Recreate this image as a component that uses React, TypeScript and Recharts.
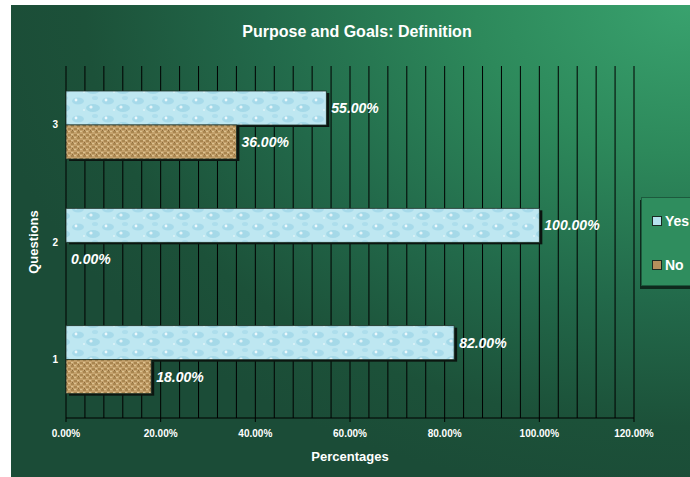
import { BarChart, Bar, XAxis, YAxis, CartesianGrid, Legend, LabelList } from 'recharts';

const questions = ['1', '2', '3'];
const yesValues = [82, 100, 55];
const noValues = [18, 0, 36];
const seriesNames = ['Yes', 'No'];
const markerColors = ['#b4e2ee', '#b58f5c'];
const xTicks = [0, 4, 8, 12, 16, 20, 24, 28, 32, 36, 40, 44, 48, 52, 56, 60, 64, 68, 72, 76, 80, 84, 88, 92, 96, 100, 104, 108, 112, 116, 120];
const labelledTicks = [0, 20, 40, 60, 80, 100, 120];

const data = questions.map((q, i) => ({ question: q, yes: yesValues[i], no: noValues[i] }));

const font = '"Liberation Sans", Arial, sans-serif';

const pct = (v: number) => `${Number(v).toFixed(2)}%`;

const XTick = (props: any) => {
  const { x, y, payload } = props;
  if (!labelledTicks.includes(payload.value)) return null;
  return (
    <g>
      <line x1={x} y1={y} x2={x} y2={y + 4} stroke="#000" />
      <text x={x} y={y + 19} textAnchor="middle" fill="#fff" fontSize={10} fontWeight="bold" fontFamily={font}>
        {pct(payload.value)}
      </text>
    </g>
  );
};

const ShadowBar = (props: any) => {
  const { x, y, width, height, fill } = props;
  if (!width || width <= 0) return <g />;
  return (
    <g>
      <rect x={x + 3} y={y + 2} width={width} height={height} fill="#0b1510" />
      <rect x={x} y={y} width={width} height={height} fill={fill} stroke="#1e3328" strokeWidth={0.8} />
    </g>
  );
};

const LegendBox = () => (
  <div
    style={{
      width: 70,
      height: 89,
      boxSizing: 'border-box',
      background: '#2f8d5e',
      border: '1px solid #1c5a3d',
      boxShadow: '-1px 3px 0 #0e2a1d',
      position: 'relative',
      fontFamily: font,
    }}
  >
    {seriesNames.map((name, i) => (
      <div key={name} style={{ position: 'absolute', left: 10, top: 15 + i * 44, display: 'flex', alignItems: 'center' }}>
        <span style={{ width: 8, height: 8, background: markerColors[i], border: '1px solid #1a2a22', display: 'inline-block' }} />
        <span style={{ marginLeft: 3, color: '#fff', fontWeight: 'bold', fontSize: 14 }}>{name}</span>
      </div>
    ))}
  </div>
);

export default function App() {
  return (
    <div
      style={{
        position: 'absolute',
        left: 11,
        top: 5,
        width: 679,
        height: 472,
        overflow: 'hidden',
        background: 'radial-gradient(ellipse 105% 105% at 100% 0%, #39a26e 0%, #2d895b 30%, #22694a 60%, #1c5139 85%, #1b4c37 100%)',
      }}
    >
      <BarChart
        layout="vertical"
        width={679}
        height={472}
        data={data}
        margin={{ top: 61, right: 56, bottom: 19, left: 0 }}
        barSize={34}
        barGap={0}
      >
        <defs>
          <pattern id="water" width="30" height="18" patternUnits="userSpaceOnUse">
            <rect width="30" height="18" fill="#bee7f1" />
            <ellipse cx="7" cy="6" rx="6" ry="3.5" fill="#93d0e3" opacity="0.55" />
            <ellipse cx="22" cy="13" rx="7" ry="4" fill="#8ccbe0" opacity="0.5" />
            <ellipse cx="24" cy="3" rx="3" ry="2" fill="#a6dbea" opacity="0.7" />
            <circle cx="5" cy="5" r="1.4" fill="#ffffff" opacity="0.8" />
            <circle cx="20" cy="12" r="1.6" fill="#ffffff" opacity="0.7" />
            <circle cx="13" cy="15" r="1" fill="#e8f7fb" opacity="0.8" />
          </pattern>
          <pattern id="burlap" width="6" height="6" patternUnits="userSpaceOnUse">
            <rect width="6" height="6" fill="#c4a16c" />
            <rect x="0" y="0" width="3" height="2" fill="#a98650" />
            <rect x="3" y="3" width="3" height="2" fill="#a98650" />
            <rect x="3" y="0" width="2" height="1" fill="#dcc291" />
            <rect x="0" y="3" width="2" height="1" fill="#dcc291" />
            <rect x="1" y="5" width="1" height="1" fill="#8e6d3e" />
          </pattern>
        </defs>
        <text x={346} y={32} textAnchor="middle" fill="#fff" fontSize={16} fontWeight="bold" fontFamily={font}>
          Purpose and Goals: Definition
        </text>
        <CartesianGrid horizontal={false} stroke="#000" strokeOpacity={1} />
        <XAxis
          type="number"
          domain={[0, 120]}
          ticks={xTicks}
          interval={0}
          tickLine={false}
          tickSize={0}
          tickMargin={0}
          height={40}
          axisLine={{ stroke: '#000' }}
          tick={<XTick />}
          label={{
            content: (p: any) => (
              <text
                x={p.viewBox.x + p.viewBox.width / 2}
                y={p.viewBox.y + 43}
                textAnchor="middle"
                fill="#fff"
                fontSize={13}
                fontWeight="bold"
                fontFamily={font}
              >
                Percentages
              </text>
            ),
          }}
        />
        <YAxis
          type="category"
          dataKey="question"
          reversed
          width={55}
          axisLine={false}
          tickLine={false}
          tick={{ fill: '#fff', fontSize: 10, fontWeight: 'bold', fontFamily: font }}
          label={{
            content: (p: any) => (
              <text
                x={27}
                y={p.viewBox.y + p.viewBox.height / 2}
                transform={`rotate(-90 27 ${p.viewBox.y + p.viewBox.height / 2})`}
                textAnchor="middle"
                fill="#fff"
                fontSize={13}
                fontWeight="bold"
                fontFamily={font}
              >
                Questions
              </text>
            ),
          }}
        />
        <Legend
          layout="horizontal"
          align="center"
          verticalAlign="middle"
          content={<LegendBox />}
          wrapperStyle={{ position: 'absolute', left: 630, top: 192, width: 70 }}
        />
        <Bar dataKey="yes" name="Yes" fill="url(#water)" shape={<ShadowBar />} isAnimationActive={false}>
          <LabelList
            dataKey="yes"
            position="right"
            offset={5}
            formatter={(v: any) => pct(v)}
            fill="#fff"
            fontSize={14}
            fontWeight="bold"
            fontStyle="italic"
            fontFamily={font}
          />
        </Bar>
        <Bar dataKey="no" name="No" fill="url(#burlap)" shape={<ShadowBar />} isAnimationActive={false}>
          <LabelList
            dataKey="no"
            position="right"
            offset={5}
            formatter={(v: any) => pct(v)}
            fill="#fff"
            fontSize={14}
            fontWeight="bold"
            fontStyle="italic"
            fontFamily={font}
          />
        </Bar>
      </BarChart>
    </div>
  );
}
